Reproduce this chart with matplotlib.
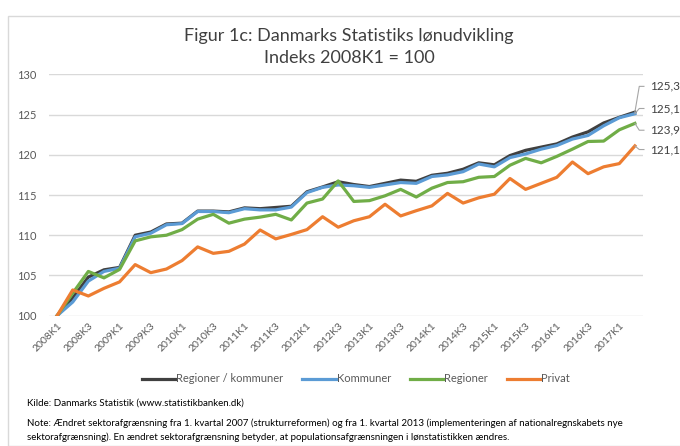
import matplotlib
matplotlib.use('Agg')
import matplotlib.pyplot as plt
from matplotlib.patches import Rectangle

plt.rcParams['font.family'] = ['Lato', 'DejaVu Sans']

# Quarters 2008K1 .. 2017K2
quarters = ['%dK%d' % (y, q) for y in range(2008, 2018) for q in range(1, 5)][:38]

regioner_kommuner = [100.0, 102.2, 104.8, 105.7, 106.0, 110.0, 110.4, 111.4, 111.5, 113.0,
                     113.0, 112.9, 113.4, 113.3, 113.45, 113.6, 115.4, 116.0, 116.65, 116.3,
                     116.05, 116.45, 116.85, 116.7, 117.45, 117.7, 118.2, 119.0, 118.75, 119.9,
                     120.55, 120.95, 121.35, 122.2, 122.85, 123.95, 124.65, 125.3]
kommuner = [100.0, 101.7, 104.3, 105.5, 105.9, 109.8, 110.25, 111.3, 111.45, 112.95,
            112.95, 112.8, 113.3, 113.15, 113.15, 113.5, 115.3, 115.95, 116.25, 116.15,
            115.95, 116.25, 116.55, 116.45, 117.3, 117.5, 117.9, 118.85, 118.5, 119.65,
            120.1, 120.7, 121.15, 121.95, 122.4, 123.6, 124.6, 125.1]
regioner = [100.0, 102.8, 105.5, 104.7, 105.75, 109.3, 109.8, 110.0, 110.7, 112.0,
            112.6, 111.5, 112.0, 112.25, 112.6, 111.9, 114.0, 114.5, 116.75, 114.2,
            114.3, 114.9, 115.7, 114.75, 115.85, 116.55, 116.65, 117.2, 117.3, 118.7,
            119.55, 119.0, 119.8, 120.7, 121.65, 121.7, 123.1, 123.9]
privat = [100.0, 103.2, 102.45, 103.4, 104.2, 106.35, 105.35, 105.8, 106.85, 108.55,
          107.75, 108.0, 108.9, 110.65, 109.55, 110.1, 110.7, 112.3, 111.0, 111.8,
          112.3, 113.85, 112.4, 113.05, 113.65, 115.2, 114.0, 114.65, 115.1, 117.05,
          115.7, 116.45, 117.2, 119.1, 117.65, 118.5, 118.9, 121.1]

series = [
    ('Regioner / kommuner', regioner_kommuner, '#404040'),
    ('Kommuner', kommuner, '#5B9BD5'),
    ('Regioner', regioner, '#70AD47'),
    ('Privat', privat, '#ED7D31'),
]
end_labels = ['125,3', '125,1', '123,9', '121,1']
label_y = [128.5, 125.75, 123.05, 120.65]

fig = plt.figure(figsize=(6.8, 4.46), dpi=100)
fig.patches.append(Rectangle((8 / 680, 0), 1, 1 - 16 / 446, transform=fig.transFigure,
                             fill=False, edgecolor='#D9D9D9', linewidth=1))
ax = fig.add_axes([49.3 / 680, 1 - 315.7 / 446, 593.4 / 680, 241.4 / 446])

x = list(range(len(quarters)))
for name, vals, color in series:
    ax.plot(x, vals, color=color, linewidth=2.3, label=name, solid_joinstyle='round')

# Data labels for last point with leader lines
last = len(quarters) - 1
for (name, vals, color), text, ly in zip(series, end_labels, label_y):
    ax.plot([last, last + 0.28, last + 0.58], [vals[-1], ly, ly], color='#A6A6A6',
            linewidth=0.8, clip_on=False)
    ax.text(last + 0.95, ly, text, fontsize=8.5, color='#404040', va='center', ha='left')

ax.set_xlim(-0.5, len(quarters) - 0.5)
ax.set_ylim(100, 130)
ax.set_yticks(range(100, 131, 5))
ax.set_xticks(x[::2])
ax.set_xticklabels(quarters[::2], rotation=45, ha='right', rotation_mode='anchor',
                   fontsize=7.5, color='#595959')
ax.tick_params(axis='y', length=0, pad=9, labelsize=8, labelcolor='#595959')
ax.tick_params(axis='x', length=0, pad=4)
ax.grid(axis='y', color='#D9D9D9', linewidth=1)
ax.set_axisbelow(True)
for s in ax.spines.values():
    s.set_visible(False)

fig.text(349 / 680, 1 - 36 / 446, 'Figur 1c: Danmarks Statistiks lønudvikling',
         ha='center', va='center', fontsize=13, color='#404040')
fig.text(349 / 680, 1 - 58 / 446, 'Indeks 2008K1 = 100',
         ha='center', va='center', fontsize=13, color='#404040')

fig.legend(loc='center', bbox_to_anchor=(356 / 680, 1 - 379 / 446), ncol=4, frameon=False,
           fontsize=8, handlelength=3.0, handletextpad=0.1, columnspacing=1.7,
           labelcolor='#595959')

fig.text(27 / 680, 1 - 403 / 446, 'Kilde: Danmarks Statistik (www.statistikbanken.dk)',
         ha='left', va='center', fontsize=7, color='#000000')
fig.text(27 / 680, 1 - 423 / 446,
         'Note: Ændret sektorafgrænsning fra 1. kvartal 2007 (strukturreformen) og fra 1. kvartal 2013 '
         '(implementeringen af nationalregnskabets nye',
         ha='left', va='center', fontsize=7, color='#000000')
fig.text(27 / 680, 1 - 437 / 446,
         'sektorafgrænsning). En ændret sektorafgrænsning betyder, at populationsafgrænsningen i '
         'lønstatistikken ændres.',
         ha='left', va='center', fontsize=7, color='#000000')

fig.savefig('out.png', dpi=100)
